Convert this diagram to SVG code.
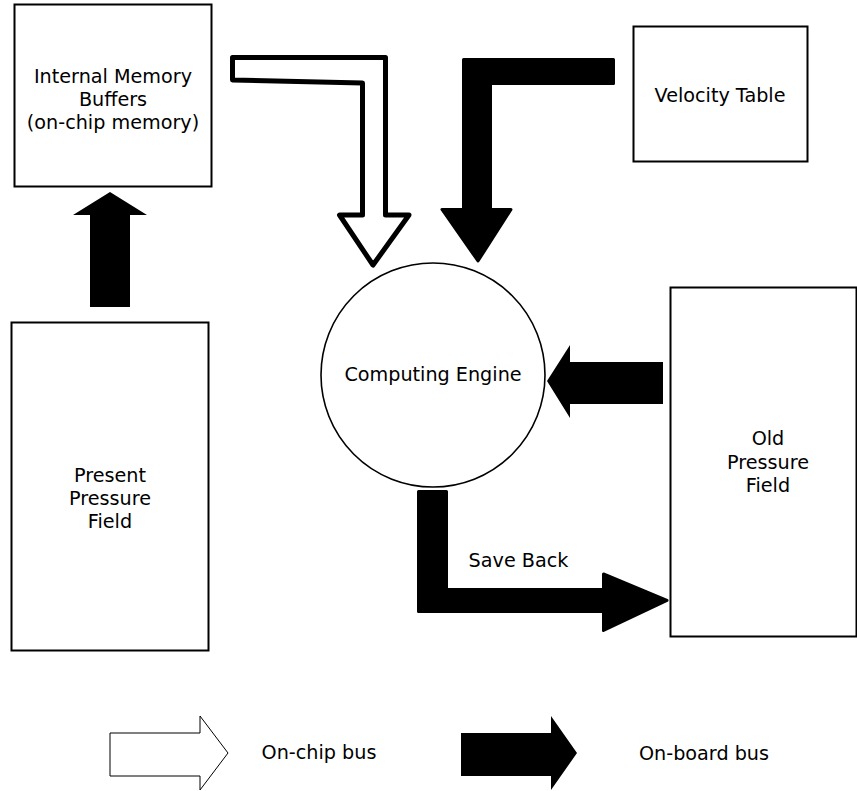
<svg xmlns="http://www.w3.org/2000/svg" width="857" height="791" viewBox="0 0 857 791">
  <style>
    .box { fill: #fff; stroke: #000; stroke-width: 2; }
    .lbl { font-family: "DejaVu Sans", Verdana, sans-serif; font-size: 19.2px; fill: #000; text-anchor: middle; }
    .bus-board { fill: #000; stroke: #000; stroke-width: 3; stroke-linejoin: round; }
    .bus-board-sharp { fill: #000; stroke: none; }
    .bus-chip { fill: #fff; stroke: #000; stroke-width: 5; stroke-linejoin: round; }
    .legend-chip { fill: #fff; stroke: #000; stroke-width: 1; }
  </style>

  <!-- Nodes -->
  <g id="internal-memory">
    <rect class="box" x="14.5" y="4.5" width="197" height="182"/>
    <text class="lbl" x="113" y="83">Internal Memory</text>
    <text class="lbl" x="113" y="106">Buffers</text>
    <text class="lbl" x="113" y="129">(on-chip memory)</text>
  </g>

  <g id="velocity-table">
    <rect class="box" x="633.5" y="26.5" width="174" height="135"/>
    <text class="lbl" x="720" y="101.5">Velocity Table</text>
  </g>

  <g id="present-pressure">
    <rect class="box" x="11.5" y="322.5" width="197" height="328"/>
    <text class="lbl" x="110" y="482">Present</text>
    <text class="lbl" x="110" y="505">Pressure</text>
    <text class="lbl" x="110" y="528">Field</text>
  </g>

  <g id="computing-engine">
    <circle cx="433" cy="375" r="112" fill="#fff" stroke="#000" stroke-width="1.6"/>
    <text class="lbl" x="433" y="381">Computing Engine</text>
  </g>

  <g id="old-pressure">
    <rect class="box" x="670.5" y="287.5" width="186" height="349"/>
    <text class="lbl" x="768" y="445">Old</text>
    <text class="lbl" x="768" y="468.5">Pressure</text>
    <text class="lbl" x="768" y="492">Field</text>
  </g>

  <!-- Connectors (bus arrows) -->
  <g id="connectors">
    <!-- on-chip bus: internal memory to computing engine -->
    <polygon class="bus-chip" points="232.5,57.5 385.5,57.5 385.5,215 409,215 373,265 339.5,215 362.5,215 362.5,83 232.5,80"/>
    <!-- on-board bus: velocity table to computing engine -->
    <polygon class="bus-board" points="463.5,59.5 613.5,59.5 613.5,83.5 490.5,83.5 490.5,209.5 511,209.5 478,261 442,209.5 463.5,209.5"/>
    <!-- on-board bus: present pressure field to internal memory -->
    <polygon class="bus-board-sharp" points="90,307 90,215 73,215 110,192 147,215 130,215 130,307"/>
    <!-- on-board bus: old pressure field to computing engine -->
    <polygon class="bus-board-sharp" points="663,362 570,362 570,345 547,381 570,418 570,404 663,404"/>
    <!-- on-board bus: save back to old pressure field -->
    <polygon class="bus-board" points="418.5,491.5 446.5,491.5 446.5,589.5 603.5,589.5 603.5,574 667,600.5 603.5,630.5 603.5,611.5 418.5,611.5"/>
    <text class="lbl" x="518.5" y="567">Save Back</text>
  </g>

  <!-- Legend -->
  <g id="legend">
    <polygon class="legend-chip" points="110,733 200,733 200,716 228,753 200,790 200,776 110,776"/>
    <text class="lbl" x="319" y="759">On-chip bus</text>
    <polygon class="bus-board-sharp" points="461,733 551,733 551,716 577,753 551,790 551,776 461,776"/>
    <text class="lbl" x="704" y="760">On-board bus</text>
  </g>
</svg>
